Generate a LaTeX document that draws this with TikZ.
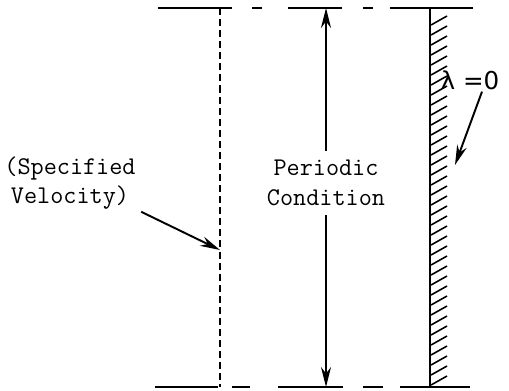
\documentclass[tikz,border=0pt]{standalone}
\usepackage{tikz}
\usetikzlibrary{arrows.meta,positioning,calc}
\usepackage{fontspec}
\setsansfont{DejaVu Sans}

\begin{document}
\begin{tikzpicture}[
    x=0.02cm, y=-0.02cm,
    bound/.style={line width=1.4pt},
    inflow/.style={line width=0.9pt, dash pattern=on 4pt off 2.3pt},
    wall/.style={line width=1.5pt},
    hatch/.style={line width=0.9pt},
    arr/.style={-{Stealth[length=4mm, width=2mm]}, line width=1.1pt},
    lbl/.style={font=\fontsize{14.5}{17}\ttfamily, align=center, inner sep=1pt}
]
\useasboundingbox (0,0) rectangle (509,390);

% top and bottom boundaries
\foreach \a/\b in {158/232, 252/262, 288/342, 363/373, 390/473}
    \draw[bound] (\a,8) -- (\b,8);
\foreach \a/\b in {155/218, 232/250, 278/343, 363/383, 400/470}
    \draw[bound] (\a,387) -- (\b,387);

% specified velocity boundary
\coordinate (vtop) at (220,8);
\coordinate (vbot) at (220,387);
\draw[inflow] (vtop) -- (vbot);
\coordinate (vtip) at (220,250);

% periodic condition
\node[lbl] (per) at (326,183) {Periodic\\Condition};
\coordinate (ptop) at (326,8);
\coordinate (pbot) at (326,387);
\draw[arr] ([yshift=4pt]per.north) -- (ptop);
\draw[arr] ([yshift=-4pt]per.south) -- (pbot);

% wall
\coordinate (wtop) at (430,8);
\coordinate (wbot) at (430,387);
\draw[wall] (wtop) -- (wbot);
\foreach \y in {20,30,...,380}
    \draw[hatch] (431,\y+5) -- (447,\y-4);

\node[font=\fontsize{14}{16}\sffamily, inner sep=1pt] (lam) at (470,80) {λ =0};
\coordinate (ltip) at (455,165);
\draw[arr] ([xshift=0.24cm]lam.south) -- (ltip);

\node[lbl] (vel) at (70,183) {(Specified\\Velocity)};
\draw[arr] ([xshift=2pt]vel.south east) -- (vtip);
\end{tikzpicture}
\end{document}
